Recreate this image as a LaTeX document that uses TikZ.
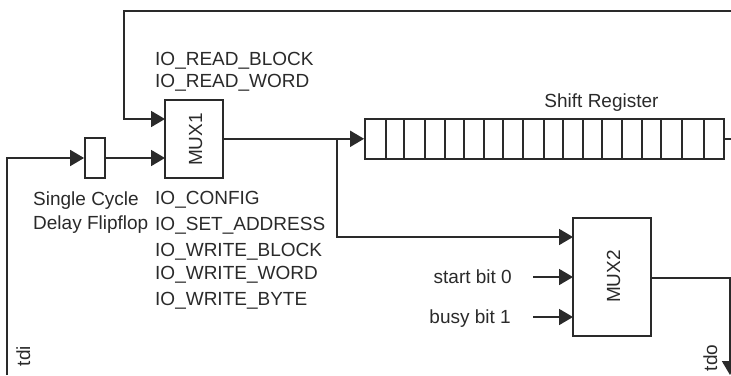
\documentclass[tikz,border=0pt]{standalone}
\usepackage{fontspec}
\setmainfont{Liberation Sans}
\usetikzlibrary{arrows.meta}
\definecolor{ink}{HTML}{2A2A2A}
\tikzset{
  wire/.style={draw=ink,line width=1.8pt},
  arr/.style={wire,-{Triangle[length=14pt,width=16pt]}},
  box/.style={draw=ink,line width=1.8pt,rectangle,inner sep=0pt,fill=white},
  lbl/.style={text=ink,inner sep=0pt,font=\fontsize{19}{22}\selectfont},
  lblr/.style={lbl,anchor=base east},
  lbll/.style={lbl,anchor=base west},
  lblc/.style={lbl,anchor=base},
  rot/.style={lbl,rotate=90,anchor=base}
}
\begin{document}
\begin{tikzpicture}[x=1pt,y=-1pt]
\useasboundingbox (0,0) rectangle (731,375);
% boxes
\node[box,minimum width=58pt,minimum height=78pt] (mux1) at (194,138.8) {};
\node[rot] (m1t) at (202,139.5) {MUX1};
\node[box,minimum width=20pt,minimum height=40pt] (ff) at (95,158) {};
\node[box,minimum width=78pt,minimum height=118pt] (mux2) at (612,277) {};
\node[rot] (m2t) at (620,276.5) {MUX2};
\node[box,minimum width=359pt,minimum height=40pt] (reg) at (544.5,138.8) {};
\foreach \d in {385.7,404.3,425,445.3,464.3,484.3,503.3,523.3,544,563.3,583.3,601.7,622.3,642.3,661,681.7,704}
  \draw[wire] (\d,119) -- (\d,159);
% free ends and junctions
\coordinate (tdiS) at (7,375);
\coordinate (tdiC) at (7,158);
\coordinate (fbE) at (731,138.8);
\coordinate (fbR) at (731,11);
\coordinate (fbL) at (124,11);
\coordinate (fbD) at (124,119);
\coordinate (m1a) at (165,119);
\coordinate (m1b) at (165,158);
\coordinate (br) at (337,138.8);
\coordinate (brD) at (337,237);
\coordinate (m2a) at (573,237);
\coordinate (m2b) at (573,277);
\coordinate (m2c) at (573,317);
\coordinate (s0) at (533,277);
\coordinate (s1) at (533,317);
\coordinate (m2o) at (651,278);
\coordinate (toC) at (730,278);
\coordinate (toE) at (730,375);
% connectors
\draw[arr] (tdiS) -- (tdiC) -- (ff.west);
\draw[arr] (ff.east) -- (m1b);
\draw[wire] (reg.east) -- (fbE);
\draw[arr] (fbR) -- (fbL) -- (fbD) -- (m1a);
\draw[arr] (mux1.east) -- (reg.west);
\draw[arr] (br) -- (brD) -- (m2a);
\draw[arr] (s0) -- (m2b);
\draw[arr] (s1) -- (m2c);
\draw[arr] (m2o) -- (toC) -- (toE);
% labels
\node[lbll] (t1) at (155,65) {IO\_READ\_BLOCK};
\node[lbll] (t2) at (155,87) {IO\_READ\_WORD};
\node[lbll] (t3) at (155,204) {IO\_CONFIG};
\node[lbll] (t4) at (155,230) {IO\_SET\_ADDRESS};
\node[lbll] (t5) at (155,256) {IO\_WRITE\_BLOCK};
\node[lbll] (t6) at (155,279) {IO\_WRITE\_WORD};
\node[lbll] (t7) at (155,305) {IO\_WRITE\_BYTE};
\node[lbll] (t8) at (33,205) {Single Cycle};
\node[lbll] (t9) at (33,229) {Delay Flipflop};
\node[lblc] (t10) at (601.5,107) {Shift Register};
\node[lblr] (t11) at (512,283) {start bit 0};
\node[lblr] (t12) at (511,323) {busy bit 1};
\node[rot] (t13) at (30,356) {tdi};
\node[rot] (t14) at (717,358) {tdo};
\end{tikzpicture}
\end{document}
